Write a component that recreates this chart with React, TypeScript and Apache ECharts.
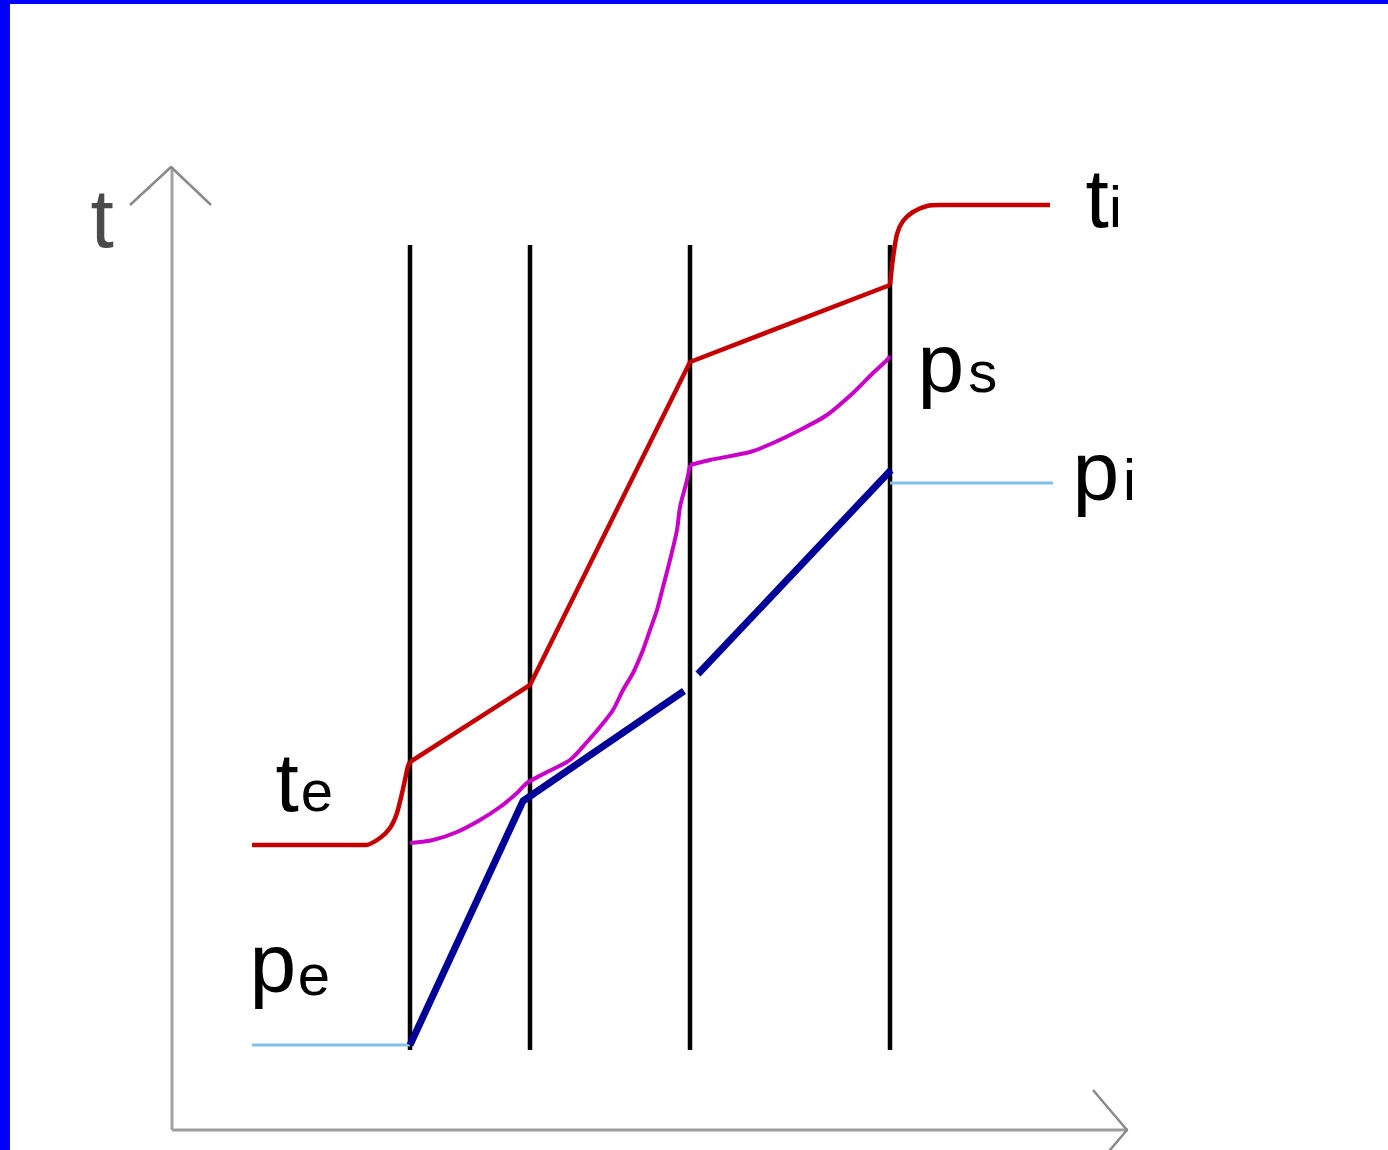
import React, { useEffect, useRef } from "react";
import * as echarts from "echarts";

type Pt = [number, number];

// Wall cross-section: x = position through the wall (layer interfaces), y = temperature / pressure scale
const layerBounds: number[] = [0, 12, 28, 48];
const wallBottom = 8;
const wallTop = 88.5;

// Temperature profile t: outside air te, through the layers, inside air ti
const tempOutside: Pt[] = [
  [-15.8, 28.5], [-4.4, 28.5], [-3.0, 29.2], [-2.0, 30.2], [-1.3, 31.7], [-0.7, 34.1],
  [-0.2, 36.4], [0, 36.8],
];
const tempLayers: Pt[] = [[0, 36.8], [12, 44.5], [28, 76.8], [48, 84.5]];
const tempInside: Pt[] = [
  [48, 84.5], [48.3, 87.2], [48.7, 89.6], [49.3, 90.9], [50.3, 91.8], [51.7, 92.4],
  [53, 92.5], [64, 92.5],
];

// Saturation vapour pressure ps
const satPressureOuter: Pt[] = [
  [0, 28.7], [2.3, 29.0], [4.7, 29.8], [7, 31], [9, 32.3], [10.7, 33.7], [11.7, 34.7],
  [13.7, 35.8], [16, 37], [17.7, 38.8], [19, 40.3], [20.3, 42], [21.3, 44], [22.3, 45.7],
  [23.3, 48], [24, 50], [24.7, 52], [25.3, 54.3], [26, 57], [26.7, 60], [27, 62.3],
  [27.7, 65], [28, 66.5],
];
const satPressureInner: Pt[] = [
  [28, 66.5], [30, 67], [34, 67.8], [36.3, 68.7], [39, 70], [41.7, 71.5],
  [44.3, 73.7], [46.3, 75.7], [47.7, 77], [48, 77.4],
];

// Partial vapour pressure p across the layers (drawn in two pieces)
const vapourPressureA: Pt[] = [[0, 8.5], [11.3, 32.9], [27.4, 43.9]];
const vapourPressureB: Pt[] = [[28.8, 45.6], [48.1, 66]];

// Outside / inside vapour pressure levels pe and pi
const outsidePressure: Pt[] = [[-15.8, 8.5], [0, 8.5]];
const insidePressure: Pt[] = [[48, 64.7], [64.3, 64.7]];

// Axis frame with open arrow heads
const yAxisLine: Pt[] = [[-23.8, 0], [-23.8, 96.3]];
const xAxisLine: Pt[] = [[-23.8, 0], [71.8, 0]];
const yArrow: Pt[] = [[-28, 92.5], [-23.9, 96.3], [-19.9, 92.5]];
const xArrow: Pt[] = [[68.3, 4], [71.7, 0], [68.3, -4]];

const FONT = '"Liberation Sans", Arial, Helvetica, sans-serif';
const MAIN = 84;
const SUB = 58;

function lineSeries(data: Pt[], color: string, width: number, z: number, smooth: number | boolean = false) {
  return {
    type: "line",
    data,
    symbol: "none",
    showSymbol: false,
    clip: false,
    silent: true,
    smooth,
    z,
    lineStyle: { color, width, cap: "butt", join: "round" },
  };
}

// text placed by its alphabetic baseline
function label(text: string, x: number, baseline: number, size: number, color = "#000") {
  return {
    type: "text",
    x,
    y: baseline - size * 0.35,
    z: 20,
    style: {
      text,
      fill: color,
      font: `${size}px ${FONT}`,
      textAlign: "left",
      textVerticalAlign: "middle",
    },
  };
}

export default function App() {
  const ref = useRef<HTMLDivElement>(null);

  useEffect(() => {
    if (!ref.current) return;
    const chart = echarts.init(ref.current, undefined, { renderer: "svg" });

    const walls = layerBounds.map((b) =>
      lineSeries([[b, wallBottom], [b, wallTop]], "#000000", 4.5, 2)
    );

    const RED = "#c40000";
    const MAGENTA = "#c800c8";
    const NAVY = "#000099";
    const SKY = "#80c2e6";

    chart.setOption({
      animation: false,
      backgroundColor: "#ffffff",
      grid: { left: 110, right: 178, top: 130, bottom: 0, containLabel: false },
      xAxis: { type: "value", min: -30, max: 80, show: false },
      yAxis: { type: "value", min: -2, max: 100, show: false },
      series: [
        lineSeries(yAxisLine, "#a3a3a3", 3, 1),
        lineSeries(xAxisLine, "#9e9e9e", 3, 1),
        lineSeries(yArrow, "#8a8a8a", 2.5, 1),
        lineSeries(xArrow, "#8a8a8a", 2.5, 1),
        ...walls,
        lineSeries(outsidePressure, SKY, 3, 3),
        lineSeries(insidePressure, SKY, 3, 3),
        lineSeries(satPressureOuter, MAGENTA, 4, 4, 0.25),
        lineSeries(satPressureInner, MAGENTA, 4, 4, 0.25),
        lineSeries(tempOutside, RED, 4.5, 5, 0.25),
        lineSeries(tempLayers, RED, 4.5, 5),
        lineSeries(tempInside, RED, 4.5, 5, 0.25),
        lineSeries(vapourPressureA, NAVY, 7, 6),
        lineSeries(vapourPressureB, NAVY, 7, 6),
      ],
      graphic: [
        { type: "rect", shape: { x: 0, y: 0, width: 10, height: 1150 }, style: { fill: "#0000ff" }, z: 30 },
        { type: "rect", shape: { x: 0, y: 0, width: 1388, height: 4 }, style: { fill: "#0000ff" }, z: 30 },
        label("t", 90.5, 247, MAIN, "#4a4a4a"),
        label("t", 275.5, 811, MAIN),
        label("e", 300.7, 811, SUB),
        label("p", 249.5, 992, MAIN),
        label("e", 297.7, 995, SUB),
        label("p", 917.5, 392, MAIN),
        label("s", 968.3, 392, SUB),
        label("t", 1085.5, 227, MAIN),
        label("i", 1109, 227, SUB),
        label("p", 1072.5, 500, MAIN),
        label("i", 1123, 500, SUB),
      ],
    });

    return () => chart.dispose();
  }, []);

  return (
    <div
      ref={ref}
      style={{ position: "fixed", left: 0, top: 0, width: 1388, height: 1150, background: "#fff" }}
    />
  );
}
